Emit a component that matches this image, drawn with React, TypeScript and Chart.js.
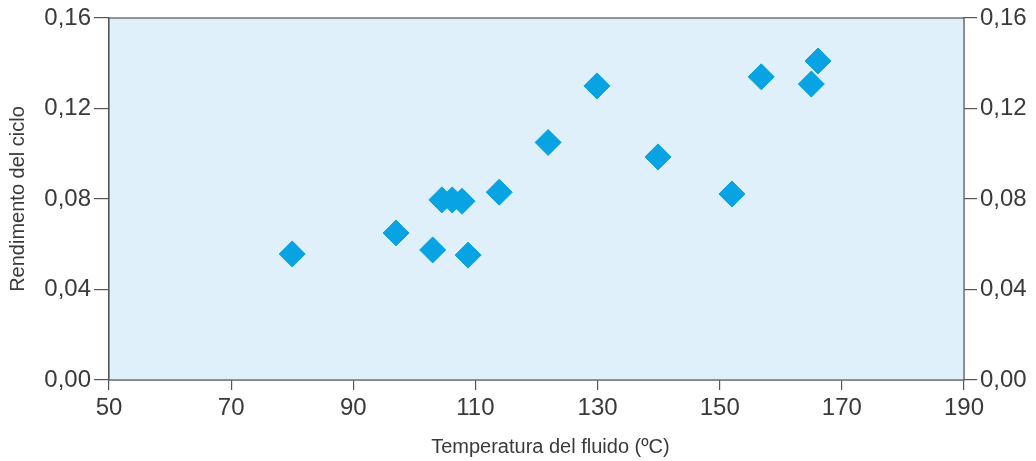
import React, { useEffect, useRef } from "react";
import { Chart, registerables } from "chart.js";

Chart.register(...registerables);

const temperatures = [80, 97, 103, 104.5, 106.2, 107.8, 108.8, 113.9, 121.9, 129.9, 139.9, 152, 156.8, 165, 166.1];
const efficiencies = [0.0557, 0.065, 0.0575, 0.0796, 0.0796, 0.079, 0.0552, 0.083, 0.105, 0.13, 0.0986, 0.0822, 0.134, 0.1308, 0.141];
const xTickValues = [50, 70, 90, 110, 130, 150, 170, 190];
const yTickValues = [0, 0.04, 0.08, 0.12, 0.16];
const xTitle = "Temperatura del fluido (ºC)";
const yTitle = "Rendimento del ciclo";

const FONT = "'Liberation Sans', Arial, sans-serif";
const TEXT = "#3a3a3a";
const AXIS = "#555555";
const MARK = "#08a3e2";
const BG = "#dff0fa";

const fmt = (v: number) => v.toFixed(2).replace(".", ",");

export default function App() {
  const ref = useRef<HTMLCanvasElement | null>(null);

  useEffect(() => {
    document.body.style.margin = "0";
    const canvas = ref.current;
    if (!canvas) return;

    const framePlugin = {
      id: "frame",
      beforeDatasetsDraw(chart: any) {
        const { ctx, chartArea } = chart;
        ctx.save();
        ctx.fillStyle = BG;
        ctx.fillRect(chartArea.left, chartArea.top, chartArea.right - chartArea.left, chartArea.bottom - chartArea.top);
        ctx.strokeStyle = AXIS;
        ctx.lineWidth = 1.2;
        ctx.strokeRect(chartArea.left, chartArea.top, chartArea.right - chartArea.left, chartArea.bottom - chartArea.top);
        ctx.restore();
      },
    };

    const chart = new Chart(canvas, {
      type: "scatter",
      data: {
        datasets: [
          {
            data: temperatures.map((t, i) => ({ x: t, y: efficiencies[i] })),
            pointStyle: "rectRot",
            pointRadius: 13,
            pointHoverRadius: 13,
            backgroundColor: MARK,
            borderColor: MARK,
            borderWidth: 1,
          },
        ],
      },
      options: {
        responsive: false,
        animation: false,
        layout: { padding: { top: 18, left: 0, right: 0, bottom: 0 } },
        plugins: { legend: { display: false }, tooltip: { enabled: false } },
        scales: {
          x: {
            type: "linear",
            min: 50,
            max: 190,
            afterFit: (s: any) => { s.height = 81; },
            afterBuildTicks: (s: any) => { s.ticks = xTickValues.map((v) => ({ value: v })); },
            border: { display: true, color: AXIS, width: 1.2 },
            grid: { drawOnChartArea: false, drawTicks: true, tickLength: 10, color: AXIS, lineWidth: 1.2 },
            ticks: { color: TEXT, font: { family: FONT, size: 24 }, padding: 4, maxRotation: 0, autoSkip: false },
            title: { display: true, text: "     " + xTitle, color: TEXT, font: { family: FONT, size: 20 }, padding: { top: 0, bottom: 2 } },
          },
          y: {
            type: "linear",
            position: "left",
            min: 0,
            max: 0.16,
            afterFit: (s: any) => { s.width = 109; },
            afterBuildTicks: (s: any) => { s.ticks = yTickValues.map((v) => ({ value: v })); },
            border: { display: true, color: AXIS, width: 1.2 },
            grid: { drawOnChartArea: false, drawTicks: true, tickLength: 15, color: AXIS, lineWidth: 1.2 },
            ticks: { color: TEXT, font: { family: FONT, size: 24 }, padding: 3, callback: (v: any) => fmt(Number(v)) },
            title: { display: true, text: yTitle, color: TEXT, font: { family: FONT, size: 20 }, padding: { top: 6, bottom: 0 } },
          },
          y2: {
            type: "linear",
            position: "right",
            min: 0,
            max: 0.16,
            afterFit: (s: any) => { s.width = 72; },
            afterBuildTicks: (s: any) => { s.ticks = yTickValues.map((v) => ({ value: v })); },
            border: { display: true, color: AXIS, width: 1.2 },
            grid: { drawOnChartArea: false, drawTicks: true, tickLength: 13, color: AXIS, lineWidth: 1.2 },
            ticks: { color: TEXT, font: { family: FONT, size: 24 }, padding: 3, callback: (v: any) => fmt(Number(v)) },
          },
        },
      },
      plugins: [framePlugin],
    } as any);

    return () => chart.destroy();
  }, []);

  return (
    <div style={{ width: 1036, height: 461, background: "#ffffff" }}>
      <canvas ref={ref} width={1036} height={461} style={{ display: "block" }} />
    </div>
  );
}
